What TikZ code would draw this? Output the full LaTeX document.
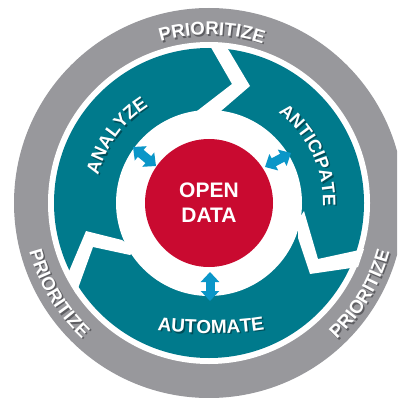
\documentclass[tikz,border=0pt]{standalone}
\usepackage{fontspec}
\setmainfont{Liberation Sans}
\usetikzlibrary{decorations.text,arrows.meta}
\definecolor{ringgray}{HTML}{98989C}
\definecolor{bandteal}{HTML}{007A8C}
\definecolor{corered}{HTML}{C90A30}
\definecolor{linkblue}{HTML}{0A96C8}
\definecolor{graydark}{HTML}{5E5E62}
\definecolor{tealdark}{HTML}{004E5A}
\newcommand\arctext[6]{%
  \path[decorate,decoration={text along path,text align=center,text={|\color{#5}\bfseries\fontsize{#4}{#4}\selectfont|#6}}]
    ([shift={(#2:#1pt)},xshift=1.5pt,yshift=-1.5pt]c) arc[start angle=#2,end angle=#3,radius=#1pt];
  \path[decorate,decoration={text along path,text align=center,text={|\color{white}\bfseries\fontsize{#4}{#4}\selectfont|#6}}]
    ([shift={(#2:#1pt)}]c) arc[start angle=#2,end angle=#3,radius=#1pt];
}
\tikzset{
  disc/.style={circle,inner sep=0pt,draw=none},
  gapshape/.style={fill=white,draw=none},
  linkarrow/.style={draw=linkblue,line width=9pt,{Triangle[length=10pt,width=18pt]}-{Triangle[length=10pt,width=18pt]},shorten >=0pt,shorten <=0pt}
}
\begin{document}
\begin{tikzpicture}[x=1pt,y=1pt]
\useasboundingbox (0,-398) rectangle (397,0);
\clip (0,-398) rectangle (397,0);
\fill[white] (0,-398) rectangle (397,0);
\coordinate (c) at (209,-203);
\node[disc,fill=ringgray,minimum size=390pt] (ring) at (c) {};
\node[disc,fill=white,minimum size=322pt] (gapouter) at (c) {};
\node[disc,fill=bandteal,minimum size=310pt] (band) at (c) {};
\node[disc,fill=white,minimum size=186pt] (hole) at (c) {};
% chevron gaps between the three teal arrows
\fill[gapshape] (209,-44) -- (232,-84) -- (197,-111) -- (221,-115) -- (221,-111) -- (250,-86) -- (225,-44) -- cycle;
\fill[gapshape] (364,-249) -- (318,-259) -- (304,-211) -- (298,-220) -- (298,-238) -- (310,-274) -- (358,-267) -- cycle;
\fill[gapshape] (76,-294) -- (93,-247) -- (130,-255) -- (135,-250) -- (122,-240) -- (86,-231) -- (67,-276) -- cycle;
\node[disc,fill=corered,minimum size=128pt,text=white,align=center,font=\bfseries\fontsize{21}{25}\selectfont] (core) at (c) {OPEN\\DATA};
% labels
\arctext{168}{107.5}{70.5}{18.5}{graydark}{PRIORITIZE}
\arctext{186}{194}{228}{18.5}{graydark}{PRIORITIZE}
\arctext{187}{-48}{-14}{18.5}{graydark}{PRIORITIZE}
\arctext{114}{168}{120}{18.5}{tealdark}{ANALYZE}
\arctext{114}{55}{-4}{18}{tealdark}{ANTICIPATE}
\path[decorate,decoration={text along path,text align=center,text={|\color{tealdark}\bfseries\fontsize{19}{19}\selectfont|AUTOMATE}}] (157.5,-331.5) .. controls (190.5,-336.1) and (235.5,-336.1) .. (267.5,-330.5);
\path[decorate,decoration={text along path,text align=center,text={|\color{white}\bfseries\fontsize{19}{19}\selectfont|AUTOMATE}}] (156,-330) .. controls (189,-334.6) and (234,-334.6) .. (266,-329);
% double arrows
\coordinate (al) at (133,-147);
\coordinate (ar) at (156,-166);
\coordinate (bl) at (265,-167);
\coordinate (br) at (291,-153);
\coordinate (cl) at (210,-272);
\coordinate (cr) at (210,-301);
\draw[linkarrow] (al) -- (ar);
\draw[linkarrow] (bl) -- (br);
\draw[linkarrow] (cl) -- (cr);
\end{tikzpicture}
\end{document}
